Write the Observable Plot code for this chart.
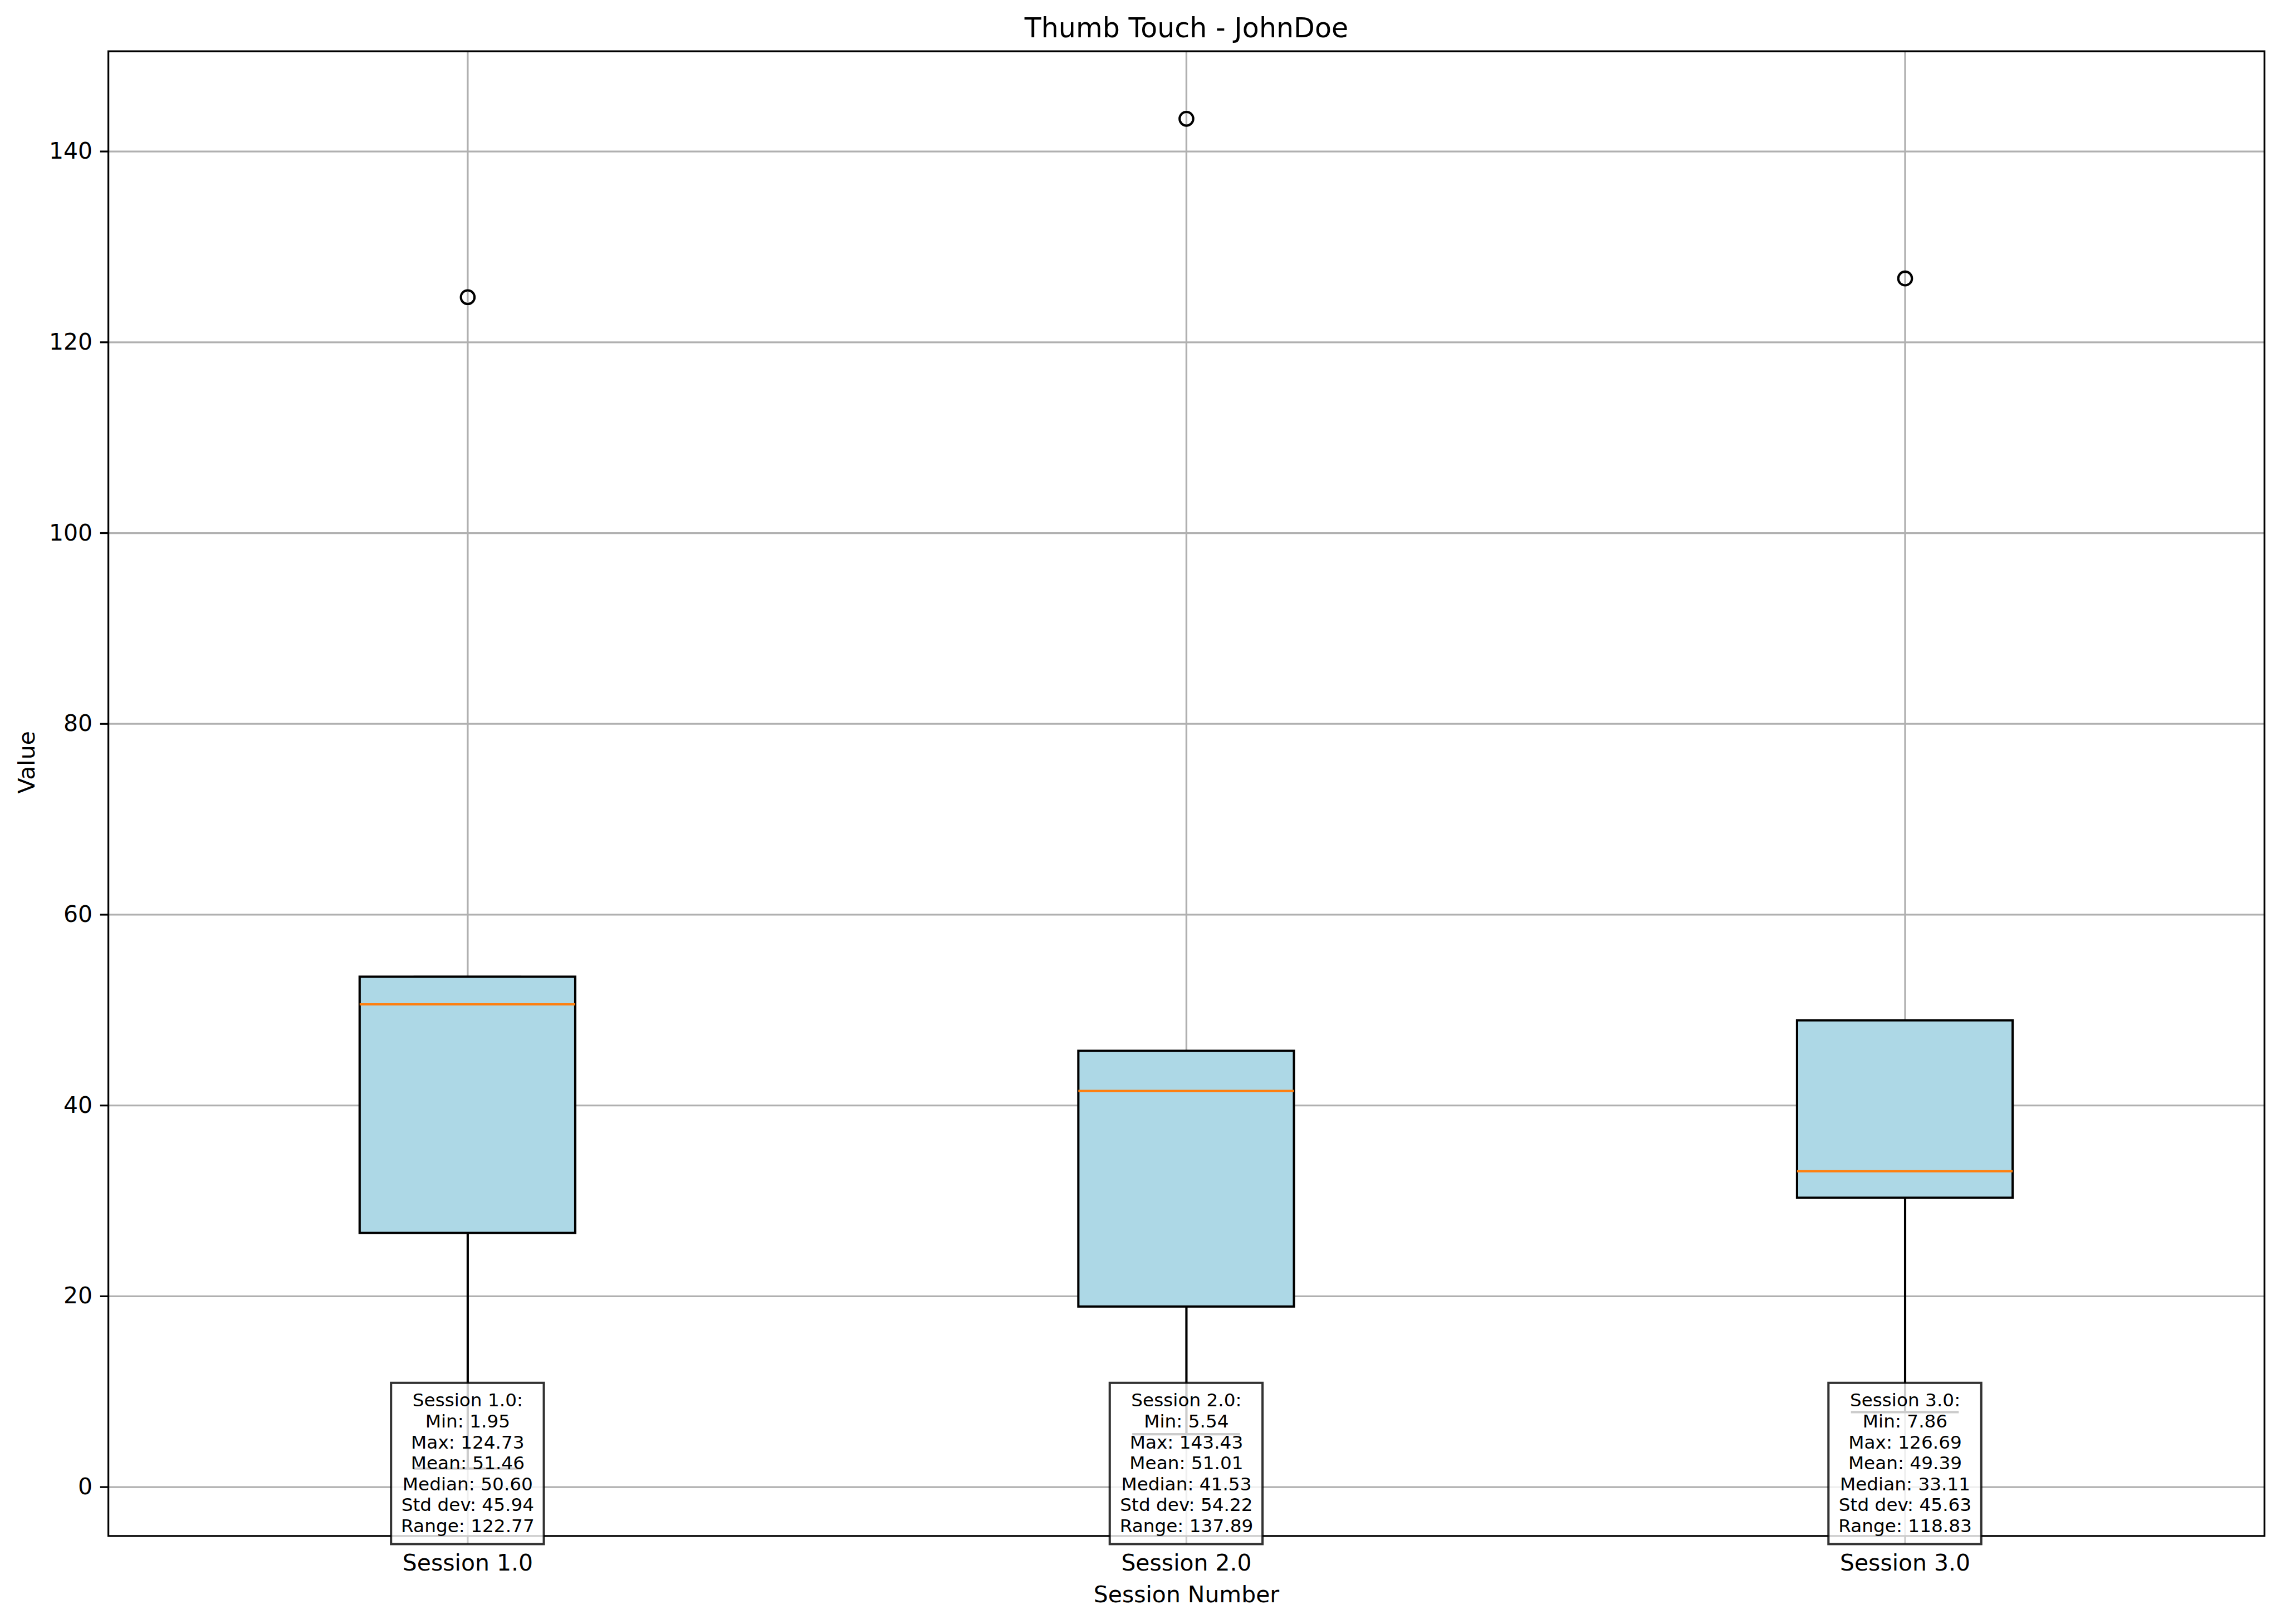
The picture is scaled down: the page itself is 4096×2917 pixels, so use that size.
<!DOCTYPE html>
<html>
<head>
<meta charset="utf-8">
<script src="https://cdn.jsdelivr.net/npm/d3@7"></script>
<script src="https://cdn.jsdelivr.net/npm/@observablehq/plot@0.6"></script>
<style>
  html, body { margin: 0; padding: 0; background: white; overflow: hidden; }
</style>
</head>
<body>
<div id="chart"></div>
<script>
// ---------------- data ----------------
const sessions = [1, 2, 3];
const xTickLabels = ["Session 1.0", "Session 2.0", "Session 3.0"];
const q1 = [26.61, 18.9, 30.3];
const q3 = [53.47, 45.7, 48.9];
const medians = [50.60, 41.53, 33.11];
const whiskerLow = [1.95, 5.54, 7.86];
const whiskerHigh = [53.47, 45.7, 48.9];
const mins = [1.95, 5.54, 7.86];
const maxs = [124.73, 143.43, 126.69];
const means = [51.46, 51.01, 49.39];
const stds = [45.94, 54.22, 45.63];
const ranges = [122.77, 137.89, 118.83];
const outlierSessions = [1, 2, 3];
const outlierValues = [124.73, 143.43, 126.69];
const yTicks = [0, 20, 40, 60, 80, 100, 120, 140];
const title = "Thumb Touch - JohnDoe";
const xLabel = "Session Number";
const yLabel = "Value";

// ---------------- layout / style ----------------
const S = 0.982;
const W = 4096, H = 2917;
const px = 300 / 72 * S;            // one point in pixels
const boxHalf = 0.15, capHalf = 0.075, annHalf = 0.1063;
const annY1 = -6.0, annY2 = 10.9;    // annotation box extent (value units)

const rows = sessions.map((s, i) => ({
  s, q1: q1[i], q3: q3[i], med: medians[i], lo: whiskerLow[i], hi: whiskerHigh[i],
  label: `Session ${s.toFixed(1)}:\nMin: ${mins[i].toFixed(2)}\nMax: ${maxs[i].toFixed(2)}\nMean: ${means[i].toFixed(2)}\nMedian: ${medians[i].toFixed(2)}\nStd dev: ${stds[i].toFixed(2)}\nRange: ${ranges[i].toFixed(2)}`
}));
const outliers = outlierSessions.map((s, i) => ({s, v: outlierValues[i]}));

const allVals = mins.concat(maxs);
const lo = d3.min(allVals), hiV = d3.max(allVals), pad = (hiV - lo) * 0.05;

const chart = Plot.plot({
  width: W, height: H,
  marginLeft: 194.1, marginRight: 30.2, marginTop: 91.6, marginBottom: 158.6,
  style: {fontFamily: "DejaVu Sans", background: "white", color: "black"},
  x: {type: "linear", domain: [0.5, 3.5]},
  y: {domain: [lo - pad, hiV + pad]},
  marks: [
    Plot.gridY({ticks: yTicks, stroke: "#b0b0b0", strokeOpacity: 1, strokeWidth: 0.8 * px}),
    Plot.gridX({ticks: sessions, stroke: "#b0b0b0", strokeOpacity: 1, strokeWidth: 0.8 * px}),
    Plot.axisY({ticks: yTicks, tickSize: 3.5 * px, tickPadding: 3.5 * px, strokeWidth: 0.8 * px,
      fontSize: 10 * px, label: null, tickFormat: d => String(d)}),
    Plot.axisX({ticks: sessions, tickSize: 3.5 * px, tickPadding: 18.5, strokeWidth: 0.8 * px,
      fontSize: 10 * px, label: null, tickFormat: d => xTickLabels[sessions.indexOf(d)]}),
    // whiskers and caps
    Plot.ruleX(rows, {x: "s", y1: "q1", y2: "lo", stroke: "black", strokeWidth: px}),
    Plot.ruleX(rows, {x: "s", y1: "q3", y2: "hi", stroke: "black", strokeWidth: px}),
    Plot.ruleY(rows, {y: "lo", x1: d => d.s - capHalf, x2: d => d.s + capHalf, stroke: "black", strokeWidth: px}),
    Plot.ruleY(rows, {y: "hi", x1: d => d.s - capHalf, x2: d => d.s + capHalf, stroke: "black", strokeWidth: px}),
    // boxes
    Plot.rect(rows, {x1: d => d.s - boxHalf, x2: d => d.s + boxHalf, y1: "q1", y2: "q3",
      fill: "#add8e6", stroke: "black", strokeWidth: px}),
    Plot.ruleY(rows, {y: "med", x1: d => d.s - boxHalf, x2: d => d.s + boxHalf, stroke: "#ff7f0e", strokeWidth: px}),
    // outliers
    Plot.dot(outliers, {x: "s", y: "v", r: 3 * px, stroke: "black", fill: "none", strokeWidth: px}),
    // frame
    Plot.frame({stroke: "black", strokeWidth: 0.8 * px}),
    // annotation boxes
    Plot.rect(rows, {x1: d => d.s - annHalf, x2: d => d.s + annHalf, y1: () => annY1, y2: () => annY2,
      fill: "white", fillOpacity: 0.8, stroke: "black", strokeOpacity: 0.8, strokeWidth: px}),
    Plot.text(rows, {x: "s", text: "label", frameAnchor: "bottom", lineAnchor: "bottom", dy: -7.2,
      fontSize: 8 * px, lineHeight: 1.147, fill: "black"}),
    // titles
    Plot.text([title], {frameAnchor: "top", lineAnchor: "bottom", dy: -24.8, fontSize: 12 * px, fill: "black"}),
    Plot.text([xLabel], {frameAnchor: "bottom", lineAnchor: "bottom", dy: 118.9, fontSize: 10 * px, fill: "black"}),
    Plot.text([yLabel], {frameAnchor: "left", lineAnchor: "bottom", rotate: -90, dx: -132.7, fontSize: 10 * px, fill: "black"})
  ]
});
document.getElementById("chart").appendChild(chart);
</script>
</body>
</html>
